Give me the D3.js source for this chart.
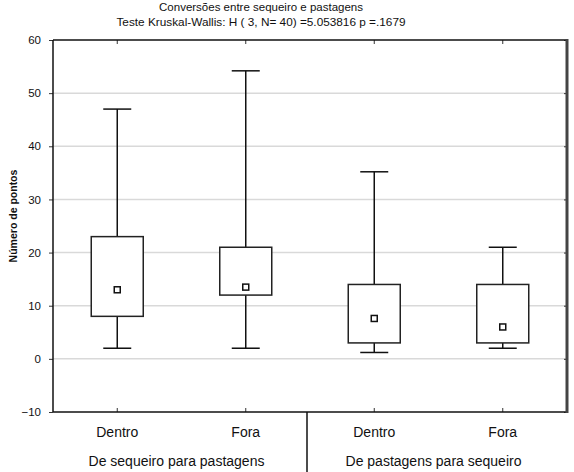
<!DOCTYPE html>
<html><head><meta charset="utf-8">
<script src="https://cdn.jsdelivr.net/npm/d3@7"></script>
<style>body{margin:0;background:#fff;} text{font-family:"Liberation Sans",Arial,sans-serif;fill:#111;}</style>
</head><body><svg id="c" width="574" height="472"></svg>
<script>
const categories = ["Dentro","Fora","Dentro","Fora"];
const groups = ["De sequeiro para pastagens","De pastagens para sequeiro"];
const whiskerLow = [2, 2, 1.2, 2];
const boxLow = [8, 12, 3, 3];
const median = [13, 13.5, 7.6, 6];
const boxHigh = [23, 21, 14, 14];
const whiskerHigh = [47, 54.2, 35.2, 21];
const yTicks = [-10,0,10,20,30,40,50,60];
const gridVals = [0,10,20,30,40,50];
const title = "Conversões entre sequeiro e pastagens";
const subtitle = "Teste Kruskal-Wallis: H ( 3, N= 40) =5.053816 p =.1679";
const yLabel = "Número de pontos";

const svg = d3.select("#c");
const L=53, R=567, T=40, B=412;
const x = d3.scaleBand().domain(d3.range(categories.length)).range([L,R]).padding(0);
const y = d3.scaleLinear().domain([-10,60]).range([B,T]);
const bw = 52, cw = 28;

// grid
svg.append("g").selectAll("line").data(gridVals).join("line")
  .attr("x1",L).attr("x2",R).attr("y1",d=>y(d)).attr("y2",d=>y(d))
  .attr("stroke","#d9d9d9").attr("stroke-width",1.5);

// axes
const yAx = svg.append("g").attr("transform",`translate(${L},0)`)
  .call(d3.axisLeft(y).tickValues(yTicks).tickSize(4).tickPadding(8));
yAx.select(".domain").remove();
yAx.selectAll("text").style("font-size","11.5px").attr("fill","#222");
yAx.selectAll("line").attr("stroke","#333");
const yAxR = svg.append("g").attr("transform",`translate(${R},0)`)
  .call(d3.axisLeft(y).tickValues(yTicks).tickSize(3).tickFormat(""));
yAxR.select(".domain").remove();
yAxR.selectAll("line").attr("stroke","#333");
const xAxT = svg.append("g").attr("transform",`translate(0,${T})`)
  .call(d3.axisBottom(x).tickSize(4).tickFormat(""));
xAxT.select(".domain").remove();
xAxT.selectAll("line").attr("stroke","#333");
const xAxB = svg.append("g").attr("transform",`translate(0,${B})`)
  .call(d3.axisTop(x).tickSize(4).tickFormat(""));
xAxB.select(".domain").remove();
xAxB.selectAll("line").attr("stroke","#333");

// frame
svg.append("line").attr("x1",L).attr("x2",R).attr("y1",T).attr("y2",T).attr("stroke","#111").attr("stroke-width",1.5);
svg.append("line").attr("x1",L).attr("x2",R).attr("y1",B).attr("y2",B).attr("stroke","#111").attr("stroke-width",1.5);
svg.append("line").attr("x1",L).attr("x2",L).attr("y1",T).attr("y2",B).attr("stroke","#111").attr("stroke-width",1.5);
svg.append("line").attr("x1",R).attr("x2",R).attr("y1",T-1).attr("y2",B+1).attr("stroke","#444").attr("stroke-width",3);

// boxes
const g = svg.append("g").selectAll("g").data(categories.map((c,i)=>i)).join("g")
  .attr("transform",i=>`translate(${x(i)+x.bandwidth()/2},0)`);
g.append("line").attr("x1",0).attr("x2",0).attr("y1",i=>y(whiskerHigh[i])).attr("y2",i=>y(boxHigh[i])).attr("stroke","#111").attr("stroke-width",1.5);
g.append("line").attr("x1",0).attr("x2",0).attr("y1",i=>y(boxLow[i])).attr("y2",i=>y(whiskerLow[i])).attr("stroke","#111").attr("stroke-width",1.5);
g.append("line").attr("x1",-cw/2).attr("x2",cw/2).attr("y1",i=>y(whiskerHigh[i])).attr("y2",i=>y(whiskerHigh[i])).attr("stroke","#111").attr("stroke-width",1.5);
g.append("line").attr("x1",-cw/2).attr("x2",cw/2).attr("y1",i=>y(whiskerLow[i])).attr("y2",i=>y(whiskerLow[i])).attr("stroke","#111").attr("stroke-width",1.5);
g.append("rect").attr("x",-bw/2).attr("width",bw).attr("y",i=>y(boxHigh[i])).attr("height",i=>y(boxLow[i])-y(boxHigh[i]))
  .attr("fill","#fff").attr("stroke","#222").attr("stroke-width",1.5);
g.append("rect").attr("x",-3).attr("width",6).attr("y",i=>y(median[i])-3).attr("height",6)
  .attr("fill","#fff").attr("stroke","#111").attr("stroke-width",1.5);

// category labels
svg.append("g").selectAll("text").data(categories).join("text")
  .attr("x",(d,i)=>x(i)+x.bandwidth()/2).attr("y",437).attr("text-anchor","middle")
  .style("font-size","14px").text(d=>d);
// group labels
const gw = (R-L)/2;
svg.append("g").selectAll("text").data(groups).join("text")
  .attr("x",(d,i)=>L+gw*i+gw/2-5).attr("y",466).attr("text-anchor","middle")
  .style("font-size","14px").text(d=>d);
svg.append("line").attr("x1",L+gw-3).attr("x2",L+gw-3).attr("y1",B).attr("y2",472).attr("stroke","#111").attr("stroke-width",1.5);

// titles
svg.append("text").attr("x",261).attr("y",11).attr("text-anchor","middle").style("font-size","11.5px").text(title);
svg.append("text").attr("x",261).attr("y",26).attr("text-anchor","middle").style("font-size","11.8px").text(subtitle);
svg.append("text").attr("transform","translate(17,216) rotate(-90)").attr("text-anchor","middle")
  .style("font-size","10.5px").style("font-weight","bold").text(yLabel);
</script></body></html>
